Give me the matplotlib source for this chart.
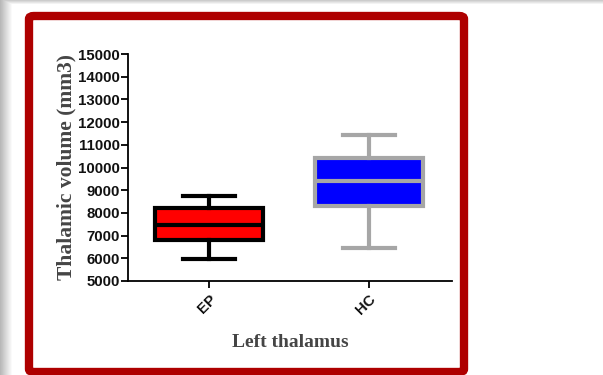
import numpy as np
import matplotlib
matplotlib.use("Agg")
import matplotlib.pyplot as plt
from matplotlib.patches import FancyBboxPatch

# box statistics (mm3)
groups = ["EP", "HC"]
whislo = [5950, 6450]
q1 = [6800, 8300]
med = [7450, 9400]
q3 = [8200, 10400]
whishi = [8750, 11450]
face_colors = ["#ff0000", "#0000ff"]
edge_colors = ["#000000", "#a6a6a6"]
yticks = list(range(5000, 15001, 1000))

fig = plt.figure(figsize=(6.03, 3.75), dpi=100)

# background with a soft shadow on the left and top
bg = fig.add_axes([0, 0, 1, 1], zorder=-5)
W, H = 603, 375
left = np.clip(np.arange(W) / 12.0, 0, 1)
top = np.clip(np.arange(H) / 4.0, 0, 1)
shade = np.minimum(0.72 + 0.28 * left[None, :], 0.8 + 0.2 * top[:, None])
bg.imshow(shade, cmap="gray", vmin=0, vmax=1, extent=[0, 1, 0, 1], aspect="auto")
bg.set_axis_off()

# dark red frame
frame = FancyBboxPatch((29 / W, (H - 372) / H), (464 - 29) / W, (372 - 16) / H,
                       boxstyle="round,pad=0,rounding_size=0.008",
                       transform=fig.transFigure, facecolor="white",
                       edgecolor="#ae0000", linewidth=6, zorder=-4)
fig.patches.append(frame)

ax = fig.add_axes([128 / W, 94 / H, (452 - 128) / W, (321 - 94) / H])
ax.patch.set_alpha(0)

for i, g in enumerate(groups):
    s = dict(label=g, whislo=whislo[i], q1=q1[i], med=med[i],
             q3=q3[i], whishi=whishi[i], fliers=[])
    ec = edge_colors[i]
    ax.bxp([s], positions=[i], widths=0.675, patch_artist=True,
           showfliers=False,
           boxprops=dict(facecolor=face_colors[i], edgecolor=ec, linewidth=3),
           medianprops=dict(color=ec, linewidth=3),
           whiskerprops=dict(color=ec, linewidth=3),
           capprops=dict(color=ec, linewidth=3),
           capwidths=0.33)

ax.set_xlim(-0.506, 1.519)
ax.set_ylim(5000, 15000)
ax.set_yticks(yticks)
ax.set_xticks(range(len(groups)))
ax.set_xticklabels(groups, rotation=45, ha="right", va="top",
                   rotation_mode="anchor")

for sp in ["top", "right"]:
    ax.spines[sp].set_visible(False)
for sp in ["left", "bottom"]:
    ax.spines[sp].set_linewidth(1.3)

ax.tick_params(axis="y", length=5, width=1.3, pad=1)
ax.tick_params(axis="x", length=5, width=1.3, pad=3)
for lab in ax.get_yticklabels() + ax.get_xticklabels():
    lab.set_family("Liberation Sans")
    lab.set_fontweight("bold")
    lab.set_fontsize(10.8)
    lab.set_color("#111111")

ax.set_ylabel("Thalamic volume (mm3)", family="Liberation Serif",
              fontweight="bold", fontsize=15.5, color="#454545", labelpad=1)
ax.set_xlabel("Left thalamus", family="Liberation Serif",
              fontweight="bold", fontsize=14, color="#454545", labelpad=12)

fig.savefig("out.png", dpi=100)
